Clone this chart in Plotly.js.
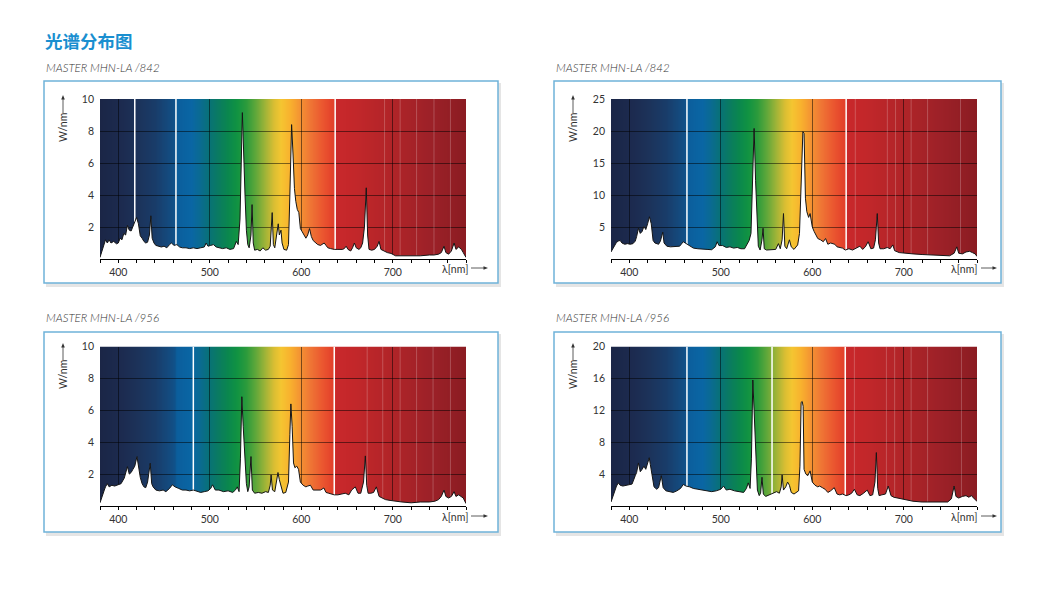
<!DOCTYPE html>
<html>
<head>
<meta charset="utf-8">
<script src="https://cdn.plot.ly/plotly-3.0.1.min.js"></script>
<style>
html,body{margin:0;padding:0;background:#fff;}
#chart{width:1060px;height:598px;}
</style>
</head>
<body>
<div id="chart"></div>
<script>
// ---------- DATA ----------
const chartTitle = '光谱分布图';
const panelTitles = ['MASTER MHN-LA /842', 'MASTER MHN-LA /842', 'MASTER MHN-LA /956', 'MASTER MHN-LA /956'];
const xTickVals = [400, 500, 600, 700];
const yTicks1 = [2, 4, 6, 8, 10];
const yTicks2 = [5, 10, 15, 20, 25];
const yTicks3 = [2, 4, 6, 8, 10];
const yTicks4 = [4, 8, 12, 16, 20];
const yAxisLabel = 'W/nm';
const xAxisLabel = 'λ[nm]';

// Panel 1: MASTER MHN-LA /842 (0-10)
const wl1 = [380,382,384,386,388,390,392,395,398,400,402,404,406,408,410,412,414,416,418,420,422,424,426,428,430,432,434,435.6,437,439,441,444,447,450,453,456,458,461,464,467,470,474,478,482,486,490,494,496,498,501,504,507,510,514,518,522,526,529,531,533,535.6,537,538.5,540,541.5,543,545,546.2,547.5,549,552,555,558,561,564,566,568.2,569.5,571,573,574.8,576,577.8,579,581,584,586,587.5,589.4,591,592.5,594,595.6,597.3,599,601,603,605,607,609,611,613,616,618,621,623,625,627,629,632,636,640,645,647,649,651,654,656,658,660,663,665,667,669,671,672.5,674,677,680,683,685,687,690,694,698,703,710,720,730,740,745,750,753,756,758,761,764,767,769,772,775,777,780];
const pw1 = [0.1,0.5,0.9,1.2,1.0,1.2,1.0,1.1,0.95,1.0,1.3,1.2,1.6,1.5,2.1,1.8,1.75,2.0,2.3,2.6,2.2,1.45,1.3,1.1,1.0,1.05,1.5,2.7,1.3,1.0,0.85,0.8,0.75,0.8,0.7,0.9,1.0,0.85,0.9,0.75,0.7,0.7,0.65,0.7,0.65,0.7,0.75,1.0,0.8,0.85,0.9,0.75,0.7,0.65,0.7,0.6,0.65,1.1,0.9,2.5,9.15,6.0,4.0,1.8,0.9,0.7,1.5,3.4,1.0,0.55,0.6,0.5,0.7,0.55,0.6,0.8,2.9,0.9,0.7,1.5,2.2,1.5,1.8,1.0,0.6,0.55,0.9,4.0,8.4,6.5,4.4,3.6,3.1,2.9,1.9,1.7,1.5,1.3,1.5,1.9,1.4,1.15,1.0,0.9,0.85,0.95,1.0,0.85,0.7,0.65,0.6,0.6,0.6,0.65,0.8,0.6,0.5,0.7,1.0,0.7,0.6,0.7,1.0,2.0,4.45,1.5,0.6,0.55,0.6,0.8,1.1,0.6,0.5,0.4,0.35,0.2,0.2,0.2,0.2,0.25,0.25,0.3,0.4,0.8,0.4,0.3,0.5,1.0,0.6,0.75,0.6,0.4,0.1];

// Panel 2: MASTER MHN-LA /842 (0-25)
const wl2 = [380,382,384,386,388,390,392,395,398,401,404,406.5,408,410,412,414,416,418,420,422,424,426,428,430,432,434,436.6,438,441,445,450,455,459,462,466,470,475,480,485,490,494,496,498,502,506,510,514,518,522,526,529,531,533,534.5,536.4,538,539.5,541,543,545,546.2,547.5,550,555,560,563,565,567,568.5,570,572,575,577,580,584,586,587.5,589.7,591,592.5,594,596,597.6,600,602,604,606,609,612,614.5,617,620,624.6,627,630,633,636,640,644,648,652,655,658,661,664,667,669,671,672.5,674,678,682,685,688,690,695,700,710,720,730,740,750,755,758,760,764,768,772,775,778,780];
const pw2 = [1.1,1.6,2.2,2.6,2.8,2.9,2.5,2.3,2.4,2.3,2.4,2.8,3.5,4.8,4.0,4.3,5.1,4.6,5.5,6.6,5.5,2.9,2.5,2.4,2.3,2.8,4.2,2.5,2.0,1.9,2.0,2.0,2.7,2.4,2.0,1.7,1.6,1.5,1.5,1.45,1.9,2.7,2.1,2.1,1.8,1.9,1.7,1.8,1.6,1.6,2.3,2.9,4.0,12.0,20.4,12.3,6.0,2.0,1.4,3.0,4.8,1.6,1.4,1.4,1.5,2.4,1.6,3.0,7.1,2.0,1.6,3.0,1.9,1.5,2.2,4.0,12.0,19.9,19.6,9.5,7.4,6.5,7.1,5.0,4.3,3.8,3.2,3.0,2.7,3.2,2.3,2.5,2.3,1.9,1.8,1.7,1.4,1.6,1.4,1.7,2.0,1.5,1.9,2.7,1.6,1.7,3.0,7.1,2.5,1.6,1.6,1.8,1.6,2.2,1.3,1.0,0.9,0.8,0.7,0.6,0.6,0.5,0.9,1.9,0.9,0.8,1.1,1.2,1.0,0.8,0.4];

// Panel 3: MASTER MHN-LA /956 (0-10)
const wl3 = [380,382,384.7,386,388,390,393,396,399,403,406.5,408,410,412,414,416,418,420.4,422,424,426,428,430,432,434.9,436.5,438,441,445,449,452,456,459,462,466,470,474,478,482,486,490,494,498,501,503,506,510,515,520,525,528,530,532,533.5,535,536.5,538,540,541.5,543,545,546.5,549,553,557,561,564,566,567,568.5,571,573,574.5,576,578,580,583,586,587.5,588.6,590,591.5,593,595,597,599,602,605,607,610,613,617,621,624.7,627,630,634,636,640,644,648,652,655,659,662,665,668,670,671.5,673,676,679,682,685,688,692,697,702,710,720,730,740,746,750,753,756,758,761,764,767,769,772,777,780];
const pw3 = [0.2,0.6,1.0,1.2,1.4,1.2,1.3,1.25,1.3,1.4,1.75,2.0,2.47,2.0,2.1,2.3,2.5,3.1,2.5,1.8,1.4,1.2,1.15,1.5,2.68,1.4,1.2,1.0,0.95,1.0,0.9,1.1,1.33,1.2,1.1,1.0,1.0,0.95,1.0,0.9,0.85,0.9,0.95,1.1,1.33,1.0,1.0,0.9,0.95,0.85,1.0,1.2,0.9,3.0,6.85,5.0,3.5,1.4,0.9,1.2,3.1,1.0,0.8,0.85,0.8,0.9,0.85,1.3,1.95,1.0,0.9,1.6,2.1,1.65,1.2,0.8,0.85,1.5,4.5,6.4,5.0,2.7,2.4,2.5,2.3,1.5,1.3,1.2,1.25,1.3,1.0,1.0,1.0,1.13,0.85,0.8,0.75,0.7,0.7,0.75,0.8,0.7,1.0,1.2,0.8,0.8,1.5,3.14,1.3,0.8,0.8,0.85,1.2,0.6,0.5,0.4,0.35,0.3,0.25,0.2,0.25,0.25,0.3,0.4,0.6,1.0,0.6,0.5,0.6,0.9,0.6,0.7,0.5,0.15];

// Panel 4: MASTER MHN-LA /956 (0-20)
const wl4 = [380,382,384,386,388,390,393,396,399,403,406.5,408,410,412,414,416,418,420,421.8,423,425,427,430,432,435,437,440,444,448,452,456,459,462,466,470,475,480,485,490,495,500,503,506,510,515,520,525,528,530,532,533.5,535,536.5,538,540,542,543.5,545,546.5,549,553,557,561,564,566,567,568.5,571,573,575,577,580,583,585,586.5,587.8,589,590,591,593,595,597.6,600,603,606,608,611,614,617,620,624,627,630,633,637,640,643,646,649,652,656,660,663,666,668.5,670,671.5,673,676,680,683,686,689,694,700,710,720,730,740,748,752,755,757,760,764,768,771,774,777,780];
const pw4 = [0.5,1.2,2.1,2.5,2.9,2.6,2.5,2.6,2.7,2.75,3.8,4.2,5.4,4.3,4.6,5.0,4.6,5.5,6.05,5.2,3.7,2.4,2.1,2.3,3.8,2.3,1.9,1.8,1.7,1.9,2.2,2.7,2.5,2.4,2.2,2.1,2.0,1.9,1.8,1.9,2.1,2.5,2.0,2.1,1.9,1.8,1.7,2.2,2.9,2.2,6.0,15.8,11.0,6.3,2.0,1.3,1.6,3.6,1.5,1.2,1.4,1.5,1.8,1.6,2.4,3.9,2.0,2.4,3.0,2.6,1.7,1.5,1.7,1.9,5.0,13.0,13.1,12.5,4.6,4.0,3.8,4.4,3.0,2.6,2.4,2.5,2.3,2.1,1.7,1.9,2.3,1.5,1.4,1.5,1.3,1.4,1.6,2.1,1.4,1.3,1.6,2.0,1.3,1.4,3.0,6.7,2.2,1.3,1.4,1.5,2.5,1.3,1.1,1.0,0.8,0.6,0.5,0.5,0.45,0.5,0.9,2.5,1.2,1.0,1.2,1.3,1.1,1.3,0.9,0.6];

// ---------- STYLE / LAYOUT CONFIG ----------
const W = 1060, H = 598;
const specNm  = [380,405,420,440,455,462,464,480,490,500,510,520,530,540,550,560,570,578,588,598,610,622,632,636,638,660,700,740,780];
const specCol = ['#1b2646','#1c2b50','#1c3259','#193c69','#144a7e','#10528a','#0b5e9c','#0a66a4','#0a6b90','#087276','#0a7c60','#0a874e','#119342','#2c9b3c','#5ea73a','#9cb338','#d9be33','#f5c631','#f8b12e','#f49532','#ef7635','#eb5a30','#e5452c','#e2402b','#c9282b','#c2272a','#b02428','#9d2128','#8b1c22'];

const panels = [
  {wl: wl1, pw: pw1, yt: yTicks1, title: panelTitles[0], px: [100,466], py: [99,259],  box: [44,81,498,283],  sub: [44,67],  yl: [63,128], ya: [113,95],  xl: [455,269], xar: [471,488,268], white: [418,463,637], faint: [691,708,726,745,763]},
  {wl: wl2, pw: pw2, yt: yTicks2, title: panelTitles[1], px: [611,977], py: [99,259],  box: [554,81,1001,283], sub: [554,67], yl: [573,128], ya: [113,95], xl: [964,269], xar: [981,997,268], white: [463,637], faint: [647,682,691,708,726,762]},
  {wl: wl3, pw: pw3, yt: yTicks3, title: panelTitles[2], px: [100,466], py: [346.5,506], box: [44,332,498,532], sub: [44,317], yl: [63,375], ya: [360,343], xl: [455,517], xar: [471,488,516], white: [482,636], faint: [672,689,708,726,744,763]},
  {wl: wl4, pw: pw4, yt: yTicks4, title: panelTitles[3], px: [611,977], py: [346.5,506], box: [554,332,1001,532], sub: [554,317], yl: [573,375], ya: [360,343], xl: [964,517], xar: [981,997,516], white: [463,556,636], faint: [646,681,690,708,726,763]}
];

function hex2rgb(h){ return [parseInt(h.substr(1,2),16), parseInt(h.substr(3,2),16), parseInt(h.substr(5,2),16)]; }
function rgbAt(nm){
  if (nm <= specNm[0]) return hex2rgb(specCol[0]);
  for (let i = 1; i < specNm.length; i++) {
    if (nm <= specNm[i]) {
      const t = (nm - specNm[i-1]) / (specNm[i] - specNm[i-1]);
      const a = hex2rgb(specCol[i-1]), b = hex2rgb(specCol[i]);
      return a.map((v, k) => Math.round(v + (b[k] - v) * t));
    }
  }
  return hex2rgb(specCol[specCol.length - 1]);
}
// spectrum background bitmap (drawn once, placed in data coordinates)
function spectrumImage(){
  const cw = 800, cv = document.createElement('canvas');
  cv.width = cw; cv.height = 4;
  const ctx = cv.getContext('2d');
  for (let i = 0; i < cw; i++) {
    const c = rgbAt(380 + (i + 0.5) * 400 / cw);
    ctx.fillStyle = 'rgb(' + c.join(',') + ')';
    ctx.fillRect(i, 0, 1, 4);
  }
  return cv.toDataURL('image/png');
}
const specURL = spectrumImage();

const fx = x => x / W;
const fy = y => 1 - y / H;

const FONT = 'Lato, "Open Sans", "DejaVu Sans", sans-serif';
const traces = [];
const shapes = [];
const images = [];
const annotations = [];
const layout = {
  width: W, height: H,
  margin: {l: 0, r: 0, t: 0, b: 0},
  paper_bgcolor: '#ffffff',
  plot_bgcolor: 'rgba(0,0,0,0)',
  showlegend: false,
  hovermode: false,
  font: {family: FONT, size: 10, color: '#333'}
};

annotations.push({
  xref: 'paper', yref: 'paper', x: fx(43), y: fy(41), xanchor: 'left', yanchor: 'middle',
  text: '<b>' + chartTitle + '</b>', showarrow: false,
  font: {family: '"Noto Sans CJK SC", sans-serif', size: 17.5, color: '#1a8fd0'}
});

panels.forEach((p, i) => {
  const n = i === 0 ? '' : String(i + 1);
  const xr = 'x' + n, yr = 'y' + n;
  const ymax = p.yt[p.yt.length - 1];

  // frame shadow + frame
  shapes.push({type: 'rect', xref: 'paper', yref: 'paper', layer: 'below',
    x0: fx(p.box[0] + 2), x1: fx(p.box[2] + 3), y0: fy(p.box[1] + 2), y1: fy(p.box[3] + 4),
    fillcolor: 'rgba(0,0,0,0.10)', line: {width: 0}});
  shapes.push({type: 'rect', xref: 'paper', yref: 'paper', layer: 'below',
    x0: fx(p.box[0]), x1: fx(p.box[2]), y0: fy(p.box[1]), y1: fy(p.box[3]),
    fillcolor: '#ffffff', line: {color: '#6fb2d9', width: 1.5}});

  // spectrum gradient background
  images.push({source: specURL, xref: xr, yref: yr, x: 380, y: ymax, sizex: 400, sizey: ymax,
    sizing: 'stretch', xanchor: 'left', yanchor: 'top', layer: 'below'});
  p.faint.forEach(v => shapes.push({type: 'line', xref: xr, yref: yr, layer: 'between',
    x0: v, x1: v, y0: 0, y1: ymax, line: {color: 'rgba(255,255,255,0.22)', width: 1}}));
  p.white.forEach(v => shapes.push({type: 'line', xref: xr, yref: yr, layer: 'between',
    x0: v, x1: v, y0: 0, y1: ymax, line: {color: '#ffffff', width: 1.5}}));

  // axes
  layout['xaxis' + n] = {
    domain: [fx(p.px[0]), fx(p.px[1])], anchor: yr, range: [380, 780],
    tickmode: 'array', tickvals: xTickVals, ticks: 'outside', ticklen: 3, tickwidth: 1, tickcolor: '#000',
    showline: true, linecolor: '#000', linewidth: 1, zeroline: false,
    showgrid: true, gridcolor: 'rgba(0,0,0,0.5)', gridwidth: 1,
    minor: {tickmode: 'linear', tick0: 380, dtick: 20, ticks: 'outside', ticklen: 3, tickwidth: 1, tickcolor: '#000', showgrid: false},
    tickfont: {family: FONT, size: 10.5, color: '#333'}, fixedrange: true
  };
  layout['yaxis' + n] = {
    domain: [fy(p.py[1]), fy(p.py[0])], anchor: xr, range: [0, ymax],
    tickmode: 'array', tickvals: p.yt, ticks: '', showline: false, zeroline: false,
    showgrid: true, gridcolor: 'rgba(0,0,0,0.5)', gridwidth: 1,
    ticklabelstandoff: 5,
    tickfont: {family: FONT, size: 10.5, color: '#333'}, fixedrange: true
  };

  // spectrum curve with white fill
  traces.push({
    type: 'scatter', mode: 'lines', x: p.wl, y: p.pw, xaxis: xr, yaxis: yr,
    line: {color: '#151515', width: 1}, fill: 'tozeroy', fillcolor: '#ffffff', hoverinfo: 'skip'
  });

  // panel subtitle
  annotations.push({xref: 'paper', yref: 'paper', x: fx(p.sub[0]), y: fy(p.sub[1]), xanchor: 'left', yanchor: 'middle',
    text: p.title, showarrow: false, font: {family: FONT, size: 11.5, color: '#333', style: 'italic', weight: 300}});
  // y label
  annotations.push({xref: 'paper', yref: 'paper', x: fx(p.yl[0]), y: fy(p.yl[1]), xanchor: 'center', yanchor: 'middle',
    text: yAxisLabel, textangle: -90, showarrow: false, font: {family: FONT, size: 10.5, color: '#333'}});
  shapes.push({type: 'line', xref: 'paper', yref: 'paper', x0: fx(p.yl[0]), x1: fx(p.yl[0]), y0: fy(p.ya[0]), y1: fy(p.ya[1] + 3),
    line: {color: '#333', width: 0.8}});
  shapes.push({type: 'path', xref: 'paper', yref: 'paper',
    path: 'M ' + fx(p.yl[0]) + ' ' + fy(p.ya[1]) + ' L ' + fx(p.yl[0] - 1.8) + ' ' + fy(p.ya[1] + 4.5) + ' L ' + fx(p.yl[0] + 1.8) + ' ' + fy(p.ya[1] + 4.5) + ' Z',
    fillcolor: '#333', line: {width: 0}});
  // x label
  annotations.push({xref: 'paper', yref: 'paper', x: fx(p.xl[0]), y: fy(p.xl[1]), xanchor: 'center', yanchor: 'middle',
    text: xAxisLabel, showarrow: false, font: {family: FONT, size: 10.5, color: '#333'}});
  shapes.push({type: 'line', xref: 'paper', yref: 'paper', x0: fx(p.xar[0]), x1: fx(p.xar[1] - 3), y0: fy(p.xar[2]), y1: fy(p.xar[2]),
    line: {color: '#333', width: 0.8}});
  shapes.push({type: 'path', xref: 'paper', yref: 'paper',
    path: 'M ' + fx(p.xar[1]) + ' ' + fy(p.xar[2]) + ' L ' + fx(p.xar[1] - 4.5) + ' ' + fy(p.xar[2] - 1.8) + ' L ' + fx(p.xar[1] - 4.5) + ' ' + fy(p.xar[2] + 1.8) + ' Z',
    fillcolor: '#333', line: {width: 0}});
});

layout.shapes = shapes;
layout.images = images;
layout.annotations = annotations;
Plotly.newPlot('chart', traces, layout, {staticPlot: true, displayModeBar: false});
</script>
</body>
</html>
